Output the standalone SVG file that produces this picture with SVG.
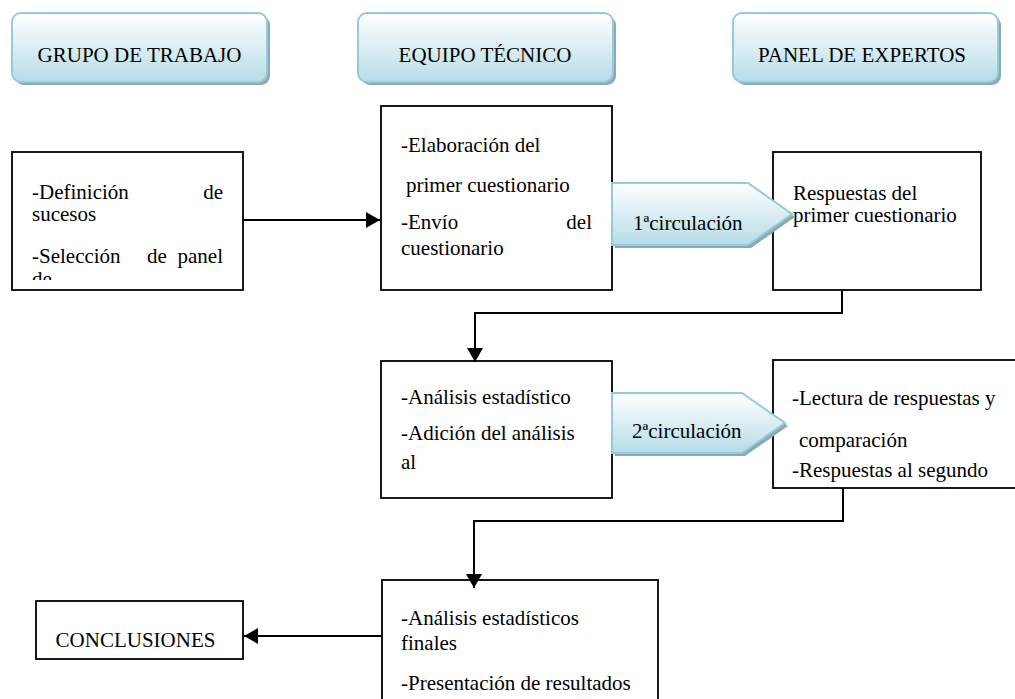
<svg xmlns="http://www.w3.org/2000/svg" width="1015" height="699" viewBox="0 0 1015 699">
<defs>
<linearGradient id="blue" x1="0" y1="0" x2="0" y2="1">
<stop offset="0" stop-color="#ffffff"/>
<stop offset="1" stop-color="#b7dce7"/>
</linearGradient>
<marker id="ah" markerWidth="14" markerHeight="16" refX="14" refY="8" orient="auto" markerUnits="userSpaceOnUse">
<path d="M0,0 L14,8 L0,16 Z" fill="#000"/>
</marker>
<clipPath id="clipA"><rect x="13" y="153" width="229" height="127"/></clipPath>
<clipPath id="clipE"><rect x="774" y="361" width="241" height="126"/></clipPath>
<clipPath id="clipF"><rect x="383" y="581" width="274" height="118"/></clipPath>
</defs>
<style>
text{font-family:"Liberation Serif","Times New Roman",Times,serif;font-size:21px;fill:#000}
.hdr{fill:url(#blue);stroke:#92cbdb;stroke-width:2}
.shd{fill:#8fa8b1}
.box{fill:#fff;stroke:#000;stroke-width:1.8}
.c{text-anchor:middle}
.e{text-anchor:end}
.con{fill:none;stroke:#000;stroke-width:2}
</style>

<g id="grupo-de-trabajo">
<rect class="shd" x="15" y="16" width="255" height="69" rx="9"/>
<rect class="hdr" x="12" y="13" width="255" height="69" rx="9"/>
<text class="c" x="139.5" y="62">GRUPO DE TRABAJO</text>
</g>
<g id="equipo-tecnico">
<rect class="shd" x="361" y="16" width="255" height="69" rx="9"/>
<rect class="hdr" x="358" y="13" width="255" height="69" rx="9"/>
<text class="c" x="485" y="62">EQUIPO TÉCNICO</text>
</g>
<g id="panel-de-expertos">
<rect class="shd" x="736" y="16" width="265" height="69" rx="9"/>
<rect class="hdr" x="733" y="13" width="265" height="69" rx="9"/>
<text class="c" x="862" y="62">PANEL DE EXPERTOS</text>
</g>

<g id="box-definicion">
<rect class="box" x="12" y="152" width="231" height="138"/>
<g clip-path="url(#clipA)">
<text x="32" y="199">-Definición</text>
<text class="e" x="223" y="199">de</text>
<text x="32" y="221">sucesos</text>
<text x="32" y="263">-Selección</text>
<text x="147" y="263">de</text>
<text class="e" x="223" y="263">panel</text>
<text x="32" y="286">de</text>
</g>
</g>

<g id="box-elaboracion">
<rect class="box" x="381" y="106" width="231" height="184"/>
<text x="401" y="152">-Elaboración del</text>
<text x="406" y="192">primer cuestionario</text>
<text x="401" y="229">-Envío</text>
<text class="e" x="592" y="229">del</text>
<text x="401" y="255">cuestionario</text>
</g>

<g id="box-respuestas1">
<rect class="box" x="773" y="152" width="208" height="138"/>
<text x="793" y="200">Respuestas del</text>
<text x="793" y="222">primer cuestionario</text>
</g>

<g id="box-analisis">
<rect class="box" x="381" y="361" width="231" height="137"/>
<text x="401" y="404">-Análisis estadístico</text>
<text x="401" y="440">-Adición del análisis</text>
<text x="401" y="469">al</text>
</g>

<g id="box-lectura">
<rect class="box" x="773" y="360" width="260" height="128"/>
<g clip-path="url(#clipE)">
<text x="792" y="405">-Lectura de respuestas y</text>
<text x="799" y="447">comparación</text>
<text x="792" y="477">-Respuestas al segundo</text>
</g>
</g>

<g id="box-finales">
<rect class="box" x="382" y="580" width="276" height="130"/>
<g clip-path="url(#clipF)">
<text x="401" y="625">-Análisis estadísticos</text>
<text x="401" y="650">finales</text>
<text x="401" y="690">-Presentación de resultados</text>
</g>
</g>

<g id="conclusiones">
<rect class="box" x="36" y="601" width="207" height="58"/>
<text class="c" x="135.5" y="647">CONCLUSIONES</text>
</g>

<g id="circulacion-1">
<path class="shd" d="M615,186 L751,186 L795,217 L751,248 L615,248 Z"/>
<path class="hdr" d="M612,183 L748,183 L792,214 L748,245 L612,245 Z"/>
<text x="633" y="230">1ªcirculación</text>
</g>
<g id="circulacion-2">
<path class="shd" d="M615,396 L745,396 L788,426 L745,456 L615,456 Z"/>
<path class="hdr" d="M612,393 L742,393 L785,423 L742,453 L612,453 Z"/>
<text x="632" y="438">2ªcirculación</text>
</g>

<g id="connectors">
<path class="con" d="M243,220 L380,220" marker-end="url(#ah)"/>
<path class="con" d="M842,290 L842,313 L475,313 L475,362" marker-end="url(#ah)"/>
<path class="con" d="M843,488 L843,521 L474,521 L474,588" marker-end="url(#ah)"/>
<path class="con" d="M382,636 L244,636" marker-end="url(#ah)"/>
</g>
</svg>
